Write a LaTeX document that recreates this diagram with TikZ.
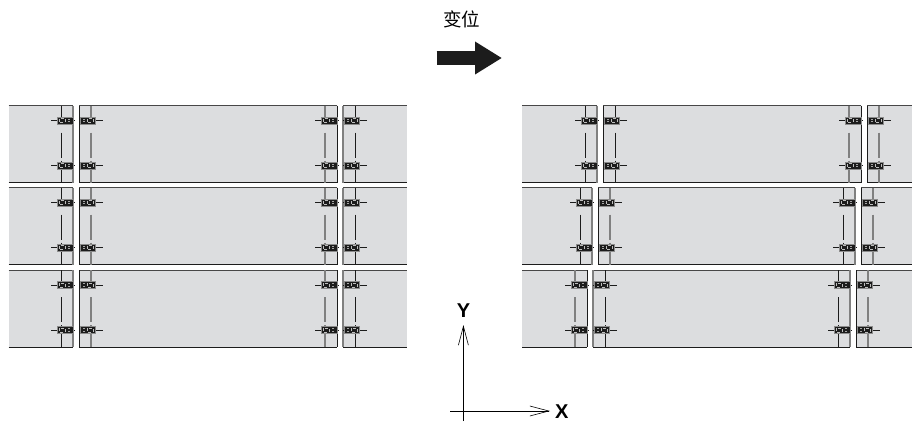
\documentclass[tikz,border=0pt]{standalone}
\usepackage{fontspec}
\setsansfont{Liberation Sans}
\newfontfamily\cjkfont{Noto Sans CJK SC}
\usetikzlibrary{arrows.meta}
\definecolor{panelgray}{HTML}{DCDDDF}
\definecolor{edgedark}{HTML}{1C1C1C}
\tikzset{
    dk/.style={line width=1pt,edgedark},
    gy/.style={line width=1.9pt,black!50},
    railtop/.style={line width=1pt,black!72},
    railbot/.style={line width=1pt,edgedark},
    stub/.style={line width=0.8pt,edgedark},
    boltbody/.style={fill=edgedark,draw=black!45,line width=0.6pt},
    boltmark/.style={draw=black!25,line width=0.45pt,densely dashed},
    axis/.style={line width=0.8pt,-{Straight Barb[length=19pt,width=10pt,line width=0.6pt]}},
    axislabel/.style={font=\sffamily\bfseries\fontsize{20}{20}\selectfont,inner sep=0pt},
}
% clamps on both sides of a gap: E is the panel edge, then the height of the bolt
\newcommand{\clamppair}[2]{
    \draw [stub] (#1-22,#2) -- (#1+2,#2);
    \draw [stub] (#1+6,#2) -- (#1+30,#2);
    \path [boltbody] (#1-16,#2-3.6) rectangle (#1,#2+3.6);
    \path [boltbody] (#1+7,#2-3.6) rectangle (#1+22,#2+3.6);
    \path [boltmark] (#1-14,#2-1.9) rectangle (#1-8,#2+1.9);
    \fill [black!35] (#1-4.6,#2-1.8) rectangle (#1-3.4,#2-0.6);
    \fill [black!35] (#1-4.6,#2+0.6) rectangle (#1-3.4,#2+1.8);
    \fill [black!35] (#1+10.4,#2-1.8) rectangle (#1+11.6,#2-0.6);
    \fill [black!35] (#1+10.4,#2+0.6) rectangle (#1+11.6,#2+1.8);
    \path [boltmark] (#1+14,#2-1.9) rectangle (#1+20,#2+1.9);
}
% broken line down the middle of a clamp
\newcommand{\panelcenter}[3]{
    \draw [#3] (#1,#2) -- (#1,#2+19);
    \draw [#3] (#1,#2+27) -- (#1,#2+52);
    \draw [#3] (#1,#2+55) -- (#1,#2+77);
}
% joint: E, top of row, then the styles of the four lines from left to right
\newcommand{\joint}[6]{
    \panelcenter{#1-12}{#2}{#3}
    \panelcenter{#1+18}{#2}{#6}
    \draw [#4] (#1,#2) -- (#1,#2+77);
    \draw [#5] (#1+6,#2) -- (#1+6,#2+77);
    \clamppair{#1}{#2+15}
    \clamppair{#1}{#2+60}
}
% row: left end, E1, E2, right end, top
\newcommand{\panelrow}[5]{
    \fill [panelgray] (#1,#5) rectangle (#2,#5+77);
    \fill [panelgray] (#2+6,#5) rectangle (#3,#5+77);
    \fill [panelgray] (#3+6,#5) rectangle (#4,#5+77);
    \foreach \xa/\xb in {#1/#2,#2+6/#3,#3+6/#4}{
        \draw [railtop] (\xa,#5) -- (\xb,#5);
        \draw [railbot] (\xa,#5+77) -- (\xb,#5+77);
    }
}
\begin{document}
\begin{tikzpicture}[x=1pt,y=-1pt]
    \useasboundingbox (0,0) rectangle (912,421);

    % before the shift
    \foreach \rowtop in {105.5,187.5,270}{
        \panelrow{8.5}{73}{337}{407}{\rowtop}
        \joint{73}{\rowtop}{dk}{gy}{dk}{gy}
        \joint{337}{\rowtop}{gy}{dk}{gy}{dk}
    }

    % after the shift
    \panelrow{522}{597}{861}{912}{105.5}
    \joint{597}{105.5}{dk}{gy}{dk}{dk}
    \joint{861}{105.5}{gy}{dk}{dk}{gy}
    \panelrow{522}{592}{855}{912}{187.5}
    \joint{592}{187.5}{dk}{gy}{dk}{gy}
    \joint{855}{187.5}{dk}{gy}{dk}{gy}
    \panelrow{522}{587}{850}{912}{270}
    \joint{587}{270}{gy}{dk}{gy}{dk}
    \joint{850}{270}{dk}{gy}{dk}{gy}

    \node [font=\cjkfont\fontsize{18.5}{18.5}\selectfont,inner sep=0pt] (title) at (461.7,19) {变位};
    \coordinate (shiftL) at (436.7,58);
    \coordinate (shiftR) at (502,58);
    \draw [line width=14pt,edgedark,-{Triangle[length=27pt,width=31pt]}] (shiftL) -- (shiftR);

    \node [axislabel] (Y) at (463.5,310.5) {Y};
    \node [axislabel] (X) at (561.7,411.5) {X};
    \coordinate (ybot) at (463.4,421);
    \coordinate (ytop) at (463.4,325);
    \coordinate (xbot) at (450,411);
    \coordinate (xtop) at (550,411);
    \draw [axis] (ybot) -- (ytop);
    \draw [axis] (xbot) -- (xtop);
\end{tikzpicture}
\end{document}
